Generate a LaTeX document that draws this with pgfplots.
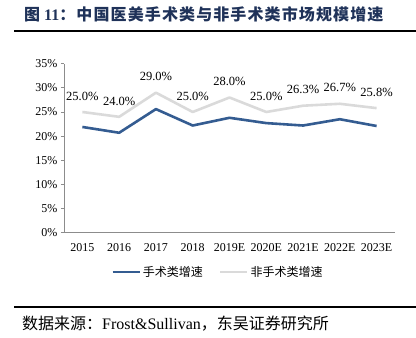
\documentclass[border=0pt]{standalone}
\usepackage{pgfplots}
\pgfplotsset{compat=1.18}
\usepackage{fontspec}
\setmainfont{Liberation Serif}
\newfontfamily\cjk{Noto Sans CJK SC}
\newfontfamily\cjkt[LetterSpace=7]{Noto Sans CJK SC}
\definecolor{blueL}{RGB}{52,92,145}
\definecolor{grayL}{RGB}{218,218,218}
\definecolor{titleC}{RGB}{31,50,89}
\begin{document}
\begin{tikzpicture}
\useasboundingbox (0,0) rectangle (416pt,-338pt);
\node[anchor=west, font=\fontsize{16}{18}\selectfont\bfseries, text=titleC, inner sep=0] at (24pt,-14pt) {{\cjk 图} 11{\cjkt ：中国医美手术类与非手术类市场规模增速}};
\draw[line width=1.5pt] (14pt,-31pt) -- (416pt,-31pt);
\draw[line width=1.5pt] (14pt,-307pt) -- (416pt,-307pt);
\node[anchor=west, font=\fontsize{16}{18}\selectfont, inner sep=0] at (22pt,-324pt) {{\cjk 数据来源：}Frost\&Sullivan{\cjk ，东吴证券研究所}};
\begin{axis}[
  at={(64pt,-232.7pt)}, anchor=south west,
  width=331pt, height=169pt, scale only axis,
  xmin=-0.5, xmax=8.5, ymin=0, ymax=35,
  axis x line*=bottom, axis y line*=left,
  axis line style={-, draw=black!45, line width=0.8pt},
  ytick={0,5,...,35},
  yticklabels={0\%,5\%,10\%,15\%,20\%,25\%,30\%,35\%},
  xtick={0,...,8},
  xticklabels={2015,2016,2017,2018,2019E,2020E,2021E,2022E,2023E},
  major x tick style={draw=none},
  major y tick style={draw=black!45, line width=0.8pt},
  tick align=outside, major tick length=3pt,
  tick label style={font=\fontsize{12}{14}\selectfont},
  x tick label style={yshift=-4pt},
  legend style={at={(0.465,-0.232)}, anchor=center, draw=none, fill=none,
    font=\fontsize{12}{14}\selectfont\cjk, legend columns=2,
    /tikz/every even column/.append style={column sep=14pt}},
  legend image code/.code={\draw[#1] (0pt,0pt) -- (27pt,0pt);},
  clip=false,
]
\addplot[blueL, line width=2.6pt, line join=round] coordinates {
  (0,21.9) (1,20.7) (2,25.6) (3,22.2) (4,23.8) (5,22.7) (6,22.2) (7,23.5) (8,22.1)};
\addlegendentry{手术类增速}
\addplot[grayL, line width=2.6pt, line join=round,
  point meta=explicit symbolic,
  nodes near coords, every node near coord/.append style={text=black, font=\fontsize{12.5}{14}\selectfont, anchor=south, yshift=7pt}] coordinates {
  (0,25.0) [25.0\%] (1,24.0) [24.0\%] (2,29.0) [29.0\%] (3,25.0) [25.0\%] (4,28.0) [28.0\%]
  (5,25.0) [25.0\%] (6,26.3) [26.3\%] (7,26.7) [26.7\%] (8,25.8) [25.8\%]};
\addlegendentry{非手术类增速}
\end{axis}
\end{tikzpicture}
\end{document}
